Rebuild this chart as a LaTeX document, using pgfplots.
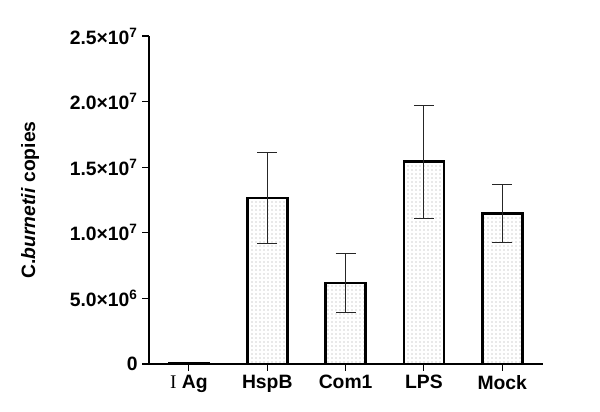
\documentclass[border=0pt]{standalone}
\usepackage{fontspec}
\setmainfont{Liberation Sans}
\newfontfamily\serifI{Liberation Serif}
\usepackage{pgfplots}
\pgfplotsset{compat=1.18}
\usetikzlibrary{patterns}

% sparse dots like the original stipple
\pgfdeclarepatternformonly{stipple}{\pgfpointorigin}{\pgfpoint{3.3pt}{3.3pt}}{\pgfpoint{3.3pt}{3.3pt}}{%
  \pgfpathrectangle{\pgfpoint{1.3pt}{1.3pt}}{\pgfpoint{0.75pt}{0.75pt}}\pgfusepath{fill}}

\begin{document}
\begin{tikzpicture}
\begin{axis}[%
scale only axis,
width=295.5pt, height=246pt,
xmin=-0.51, xmax=4.52,
ymin=0, ymax=2.5e7,
scaled y ticks=false,
axis lines=left,
axis line style={-, line width=0.8pt},
tick style={line width=0.8pt, black},
tick align=outside,
major tick length=5pt,
xtick={0,1,2,3,4},
xticklabels={{\serifI\mdseries I} Ag, HspB, Com1, LPS, Mock},
ytick={0,5e6,1e7,1.5e7,2e7,2.5e7},
yticklabels={0, 5.0×10\textsuperscript{6}, 1.0×10\textsuperscript{7}, 1.5×10\textsuperscript{7}, 2.0×10\textsuperscript{7}, 2.5×10\textsuperscript{7}},
ticklabel style={font=\fontsize{14.5}{16}\selectfont\bfseries},
ylabel={C.\textit{burnetii} copies},
every axis y label/.style={at={(rel axis cs:-0.302,0.5)}, anchor=center, rotate=90,
  font=\fontsize{14.5}{16}\selectfont\bfseries},
clip=false,
]
\coordinate (bl) at (rel axis cs:0,0);
\coordinate (tr) at (rel axis cs:1,1);

% Ag: next to nothing, only the border shows
\addplot [ybar, bar width=30pt, draw=black, line width=2pt, pattern=stipple, pattern color=black!70]
  coordinates {(0,6e4)};

\addplot [ybar, bar width=30pt, draw=black, line width=2pt,
  pattern=stipple, pattern color=black!70,
  error bars/.cd, y dir=both, y explicit,
  error bar style={line width=0.8pt, black!85},
  error mark options={mark size=7.5pt, line width=0.8pt, black!85, rotate=90}]
  table [x=x, y=y, y error=e] {
x y e
1 1.265e7 3.45e6
2 6.17e6 2.25e6
3 1.542e7 4.3e6
4 1.149e7 2.2e6
};
\end{axis}
\pgfresetboundingbox
\path ([xshift=-111.75pt,yshift=-35.25pt]bl) rectangle ([xshift=42.75pt,yshift=27pt]tr);
\end{tikzpicture}
\end{document}
